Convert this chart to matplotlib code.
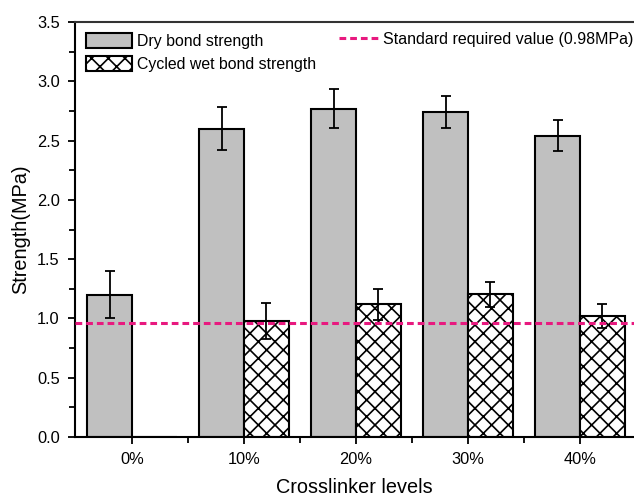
import numpy as np
import matplotlib
matplotlib.use("Agg")
import matplotlib.pyplot as plt
from matplotlib.lines import Line2D
from matplotlib.patches import Patch

categories = ["0%", "10%", "20%", "30%", "40%"]
dry = [1.20, 2.60, 2.77, 2.74, 2.54]
dry_err = [0.20, 0.18, 0.165, 0.135, 0.13]
wet = [0.0, 0.98, 1.12, 1.205, 1.02]
wet_err = [0.0, 0.15, 0.13, 0.105, 0.10]
standard = 0.96

plt.rcParams['font.family'] = ['Liberation Sans', 'DejaVu Sans']
plt.rcParams['hatch.linewidth'] = 1.2

fig = plt.figure(figsize=(6.34, 4.96), dpi=100)
ax = fig.add_axes([75/634, 1-437/496, 1-75/634, (437-22)/496])

x = np.arange(len(categories))
w = 0.4
ax.bar(x - w/2, dry, w, color='#c0c0c0', edgecolor='black', linewidth=1.5, zorder=2)
ax.bar(x + w/2, wet, w, color='white', edgecolor='black', linewidth=1.5, hatch='xx', zorder=2)

dry_a = np.array(dry); de = np.array(dry_err)
wet_a = np.array(wet); we = np.array(wet_err)
ax.errorbar(x - w/2, dry_a, yerr=de, fmt='none', ecolor='black', elinewidth=1.3, capsize=3.8, capthick=1.3, zorder=3)
m = we > 0
ax.errorbar((x + w/2)[m], wet_a[m], yerr=we[m], fmt='none', ecolor='black', elinewidth=1.3, capsize=3.8, capthick=1.3, zorder=3)

ax.axhline(standard, color='#e8197f', linestyle=(0, (2.2, 1.3)), linewidth=2.2, zorder=4)

ax.set_xlim(-0.509, 4.482)
ax.set_ylim(0, 3.5)
ax.set_yticks(np.arange(0, 3.51, 0.5))
ax.set_yticks(np.arange(0.25, 3.5, 0.5), minor=True)
ax.set_xticks(x)
ax.set_xticklabels(categories)
ax.set_xticks(x[:-1] + 0.5, minor=True)
ax.tick_params(axis='both', which='major', direction='out', length=5, width=1.3, labelsize=11.8, pad=6)
ax.tick_params(axis='both', which='minor', direction='out', length=4, width=1.3)

ax.spines['right'].set_visible(False)
ax.spines['left'].set_linewidth(1.5)
ax.spines['bottom'].set_linewidth(1.5)
ax.spines['top'].set_linewidth(1.5)
ax.spines['top'].set_color('#333333')

ax.set_ylabel("Strength(MPa)", fontsize=14.3, labelpad=5)
ax.set_xlabel("Crosslinker levels", fontsize=14.3, labelpad=8)

h1 = [Patch(facecolor='#c0c0c0', edgecolor='black', linewidth=1.5),
      Patch(facecolor='white', edgecolor='black', linewidth=1.5, hatch='xx')]
leg1 = ax.legend(h1, ["Dry bond strength", "Cycled wet bond strength"], loc='upper left',
                 frameon=False, fontsize=11.4, handlelength=2.9, handleheight=1.1,
                 handletextpad=0.3, labelspacing=0.45, borderaxespad=0.3,
                 bbox_to_anchor=(0.0, 1.0))
ax.add_artist(leg1)
h2 = [Line2D([0], [0], color='#e8197f', linestyle=(0, (2.2, 1.3)), linewidth=2.2)]
ax.legend(h2, ["Standard required value (0.98MPa)"], loc='upper right', frameon=False,
          fontsize=11.5, handlelength=2.6, handletextpad=0.15, borderaxespad=0.3,
          bbox_to_anchor=(1.018, 1.003))

fig.savefig("out.png", dpi=100)
